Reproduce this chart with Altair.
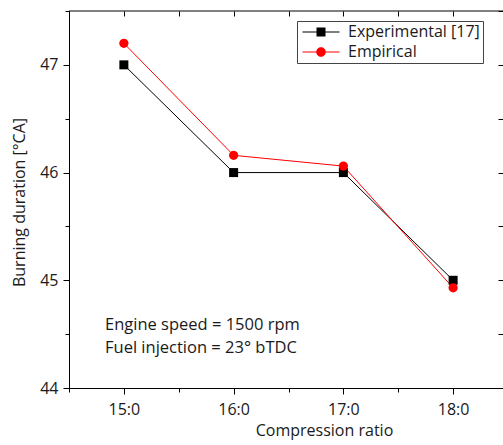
import altair as alt
import pandas as pd

# ---- data ----
compression_ratio = [15, 16, 17, 18]
experimental = [47.0, 46.0, 46.0, 45.0]
empirical = [47.2, 46.16, 46.06, 44.93]
series_names = ["Experimental [17]", "Empirical"]
series_colors = ["#000000", "#ff0000"]
x_tick_values = [14.5, 15, 15.5, 16, 16.5, 17, 17.5, 18, 18.5]
y_tick_values = [44, 44.5, 45, 45.5, 46, 46.5, 47, 47.5]
notes = ["Engine speed = 1500 rpm", "Fuel injection = 23° bTDC"]

df = pd.DataFrame({
    "cr": compression_ratio * 2,
    "bd": experimental + empirical,
    "series": [series_names[0]] * len(compression_ratio) + [series_names[1]] * len(compression_ratio),
})

FONT = "Open Sans"
FS = 16
TXT = "#1a1a1a"

xscale = alt.Scale(domain=[14.5, 18.5], range=[0, 439], nice=False, zero=False)
yscale = alt.Scale(domain=[44, 47.5], nice=False, zero=False)

legend = alt.Legend(
    title=None, orient="none", legendX=228, legendY=10,
    strokeColor="#444444", padding=3, symbolSize=100, symbolOpacity=1,
    symbolStrokeWidth=0, symbolOffset=13, labelFont=FONT, labelFontSize=FS,
    labelFontWeight="normal", labelOffset=19, rowPadding=4, labelColor=TXT,
    labelLimit=300,
    labelExpr="datum.label + '\u2002\u2009'",
)
color = alt.Color("series:N", scale=alt.Scale(domain=series_names, range=series_colors), legend=legend)

minor = "datum.value % 1 != 0"

x_bottom = alt.Axis(
    orient="bottom", values=x_tick_values, title="Compression ratio",
    labelExpr="datum.value % 1 == 0 ? format(datum.value, 'd') + ':0' : ''",
    tickSize={"condition": {"test": minor, "value": 4}, "value": 6},
    labelPadding=7, labelFlush=False, grid=False,
    titleX=255, titleY=42, titleAnchor="middle", titleAlign="center", titleBaseline="middle",
)
y_left = alt.Axis(
    orient="left", values=y_tick_values, title="Burning duration [°CA]",
    labelExpr="datum.value % 1 == 0 ? format(datum.value, 'd') : ''",
    tickSize={"condition": {"test": minor, "value": 4}, "value": 6},
    labelPadding=5, labelFlush=False, grid=False,
    titleX=-50, titleY=191, titleAngle=-90, titleAlign="center", titleBaseline="middle",
)

lines = alt.Chart(df).mark_line(strokeWidth=1).encode(
    x=alt.X("cr:Q", scale=xscale, axis=x_bottom),
    y=alt.Y("bd:Q", scale=yscale, axis=y_left),
    color=color,
)
marker_base = alt.Chart(df).encode(
    x=alt.X("cr:Q", scale=xscale, axis=None),
    y=alt.Y("bd:Q", scale=yscale, axis=None),
    color=color,
)
squares = marker_base.transform_filter(alt.datum.series == series_names[0]).mark_square(size=81, opacity=1)
circles = marker_base.transform_filter(alt.datum.series == series_names[1]).mark_circle(size=85, opacity=1)

# legend symbol: horizontal line segment with marker (path units: 5 px each at symbolSize 100)
legend_shapes = [
    "M-3.7,-0.1H3.7V0.1H-3.7Z M-0.9,-0.9H0.9V0.9H-0.9Z",
    "M-3.7,-0.1H3.7V0.1H-3.7Z M-0.95,0A0.95,0.95 0 1,1 0.95,0A0.95,0.95 0 1,1 -0.95,0Z",
]

frame_axes = alt.Chart(df).mark_point(opacity=0, filled=True).encode(
    x=alt.X("cr:Q", scale=xscale, axis=alt.Axis(
        orient="top", values=x_tick_values, labels=False, domain=False, title=None,
        tickSize=5, offset=-5, grid=False)),
    y=alt.Y("bd:Q", scale=yscale, axis=alt.Axis(
        orient="right", values=y_tick_values, labels=False, domain=False, title=None,
        tickSize=5, offset=-5, grid=False)),
    color=color,
    shape=alt.Shape("series:N", scale=alt.Scale(domain=series_names, range=legend_shapes), legend=legend),
)

top_line = alt.Chart(pd.DataFrame({"k": [0]})).mark_rule(color="black", strokeWidth=1).encode(
    x=alt.value(0), x2=alt.value(439), y=alt.value(0)
)

note_text = alt.Chart(pd.DataFrame({"k": [0]})).mark_text(
    align="left", baseline="middle", font=FONT, fontSize=16.5, fontWeight="normal",
    lineHeight=23, color=TXT
).encode(text=alt.value(notes), x=alt.value(36), y=alt.value(314))

chart = alt.layer(lines, squares, circles, frame_axes, top_line, note_text).resolve_axis(
    x="independent", y="independent"
).properties(
    width=434, height=377,
    padding={"left": 69, "top": 11, "right": 0, "bottom": 57},
    autosize=alt.AutoSizeParams(type="none"),
).configure_view(stroke=None).configure_axis(
    labelFont=FONT, labelFontSize=FS, titleFont=FONT, titleFontSize=FS,
    titleFontWeight="normal", labelFontWeight="normal", labelColor=TXT, titleColor=TXT,
    domainColor="black", tickColor="black", domainWidth=1, tickWidth=1,
).configure_legend(
    labelFont=FONT, labelFontSize=FS, labelColor=TXT,
)

chart.save("out.html", embed_options={"renderer": "svg", "actions": False})
